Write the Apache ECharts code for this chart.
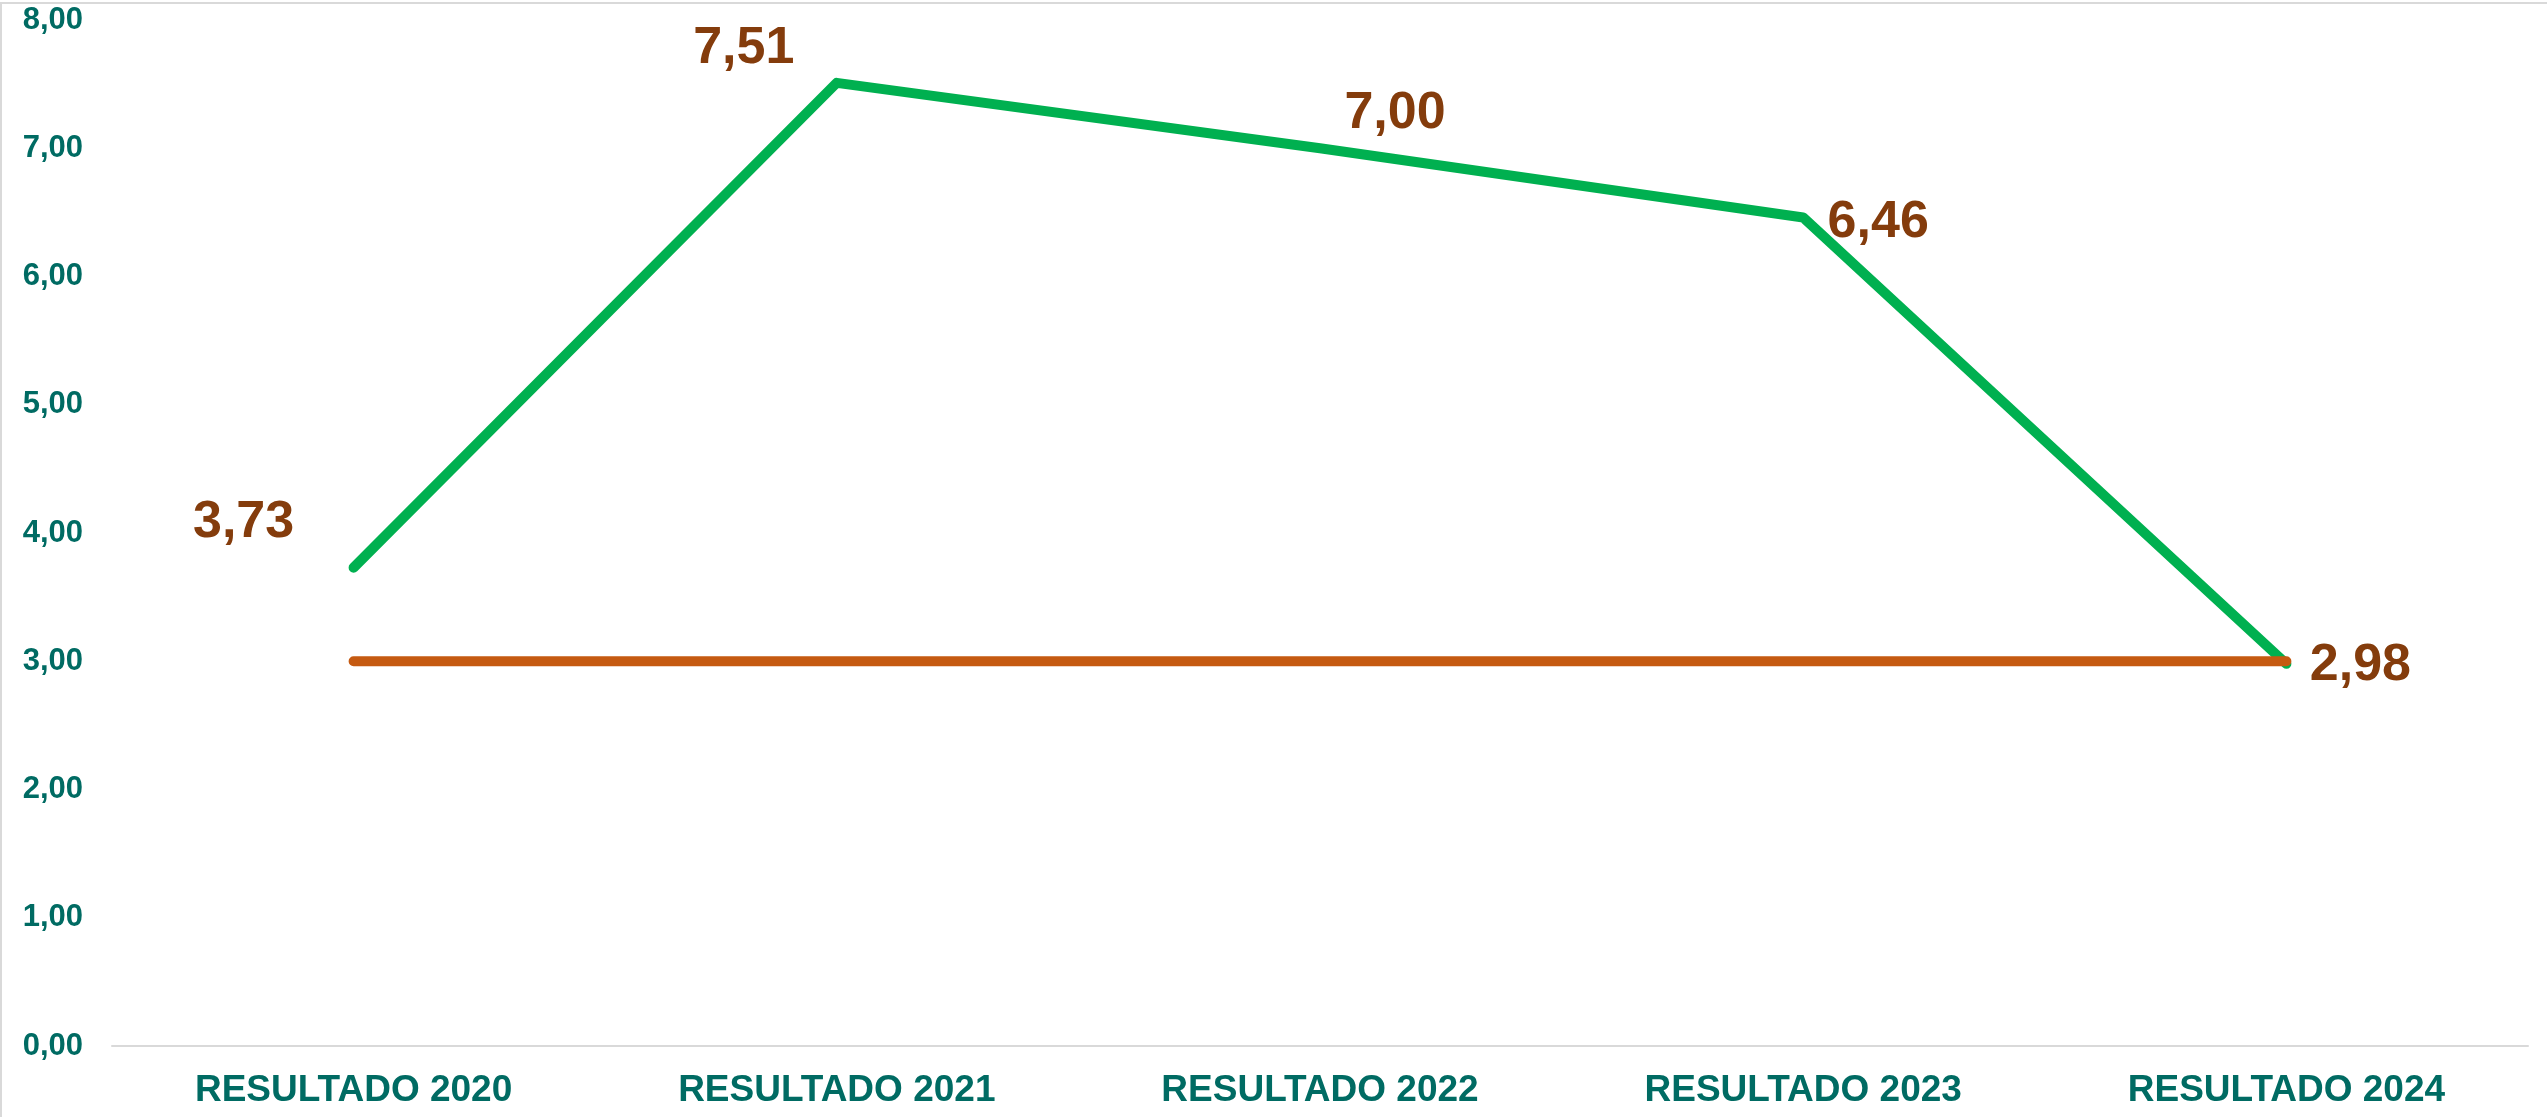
<!DOCTYPE html>
<html>
<head>
<meta charset="utf-8">
<script src="https://cdn.jsdelivr.net/npm/echarts@6/dist/echarts.min.js"></script>
<style>
  html, body { margin: 0; padding: 0; background: #fff; }
  #chart { width: 2547px; height: 1117px; }
</style>
</head>
<body>
<div id="chart"></div>
<script>
// dados do gráfico
const categorias = ["RESULTADO 2020", "RESULTADO 2021", "RESULTADO 2022", "RESULTADO 2023", "RESULTADO 2024"];
const resultado = [3.73, 7.51, 7.0, 6.46, 2.98];
const meta = [3, 3, 3, 3, 3];
const yTicks = [0, 1, 2, 3, 4, 5, 6, 7, 8];

// deslocamento dos rótulos (estilo, não dados)
const labelOffsets = [[-110, -45], [-93, -34], [75, -35], [75, 5], [74, 2]];

const fonte = '"Liberation Sans", Arial, sans-serif';
const fmt = (v) => v.toFixed(2).replace(".", ",");

const chart = echarts.init(document.getElementById("chart"));

const option = {
  backgroundColor: "#ffffff",
  animation: false,
  graphic: [
    {
      type: "rect",
      shape: { x: 1, y: 3, width: 2700, height: 1300 },
      style: { fill: "none", stroke: "#D9D9D9", lineWidth: 2 },
      silent: true,
    },
  ],
  grid: {
    left: 112,
    right: 19,
    top: 20,
    bottom: 71,
  },
  xAxis: {
    type: "category",
    data: categorias,
    boundaryGap: true,
    axisTick: { show: false },
    axisLine: { lineStyle: { color: "#D9D9D9", width: 2 } },
    axisLabel: {
      color: "#006B63",
      fontFamily: fonte,
      fontWeight: "bold",
      fontSize: 37,
      margin: 26,
    },
  },
  yAxis: {
    type: "value",
    min: yTicks[0],
    max: yTicks[yTicks.length - 1],
    interval: 1,
    splitLine: { show: false },
    axisLine: { show: false },
    axisTick: { show: false },
    axisLabel: {
      color: "#006B63",
      fontFamily: fonte,
      fontWeight: "bold",
      fontSize: 31,
      margin: 29,
      formatter: (v) => fmt(v),
    },
  },
  series: [
    {
      name: "Resultado",
      type: "line",
      symbol: "circle",
      symbolSize: 1,
      itemStyle: { color: "#00B050" },
      lineStyle: { color: "#00B050", width: 10, cap: "round", join: "round" },
      data: resultado.map((v, i) => ({
        value: v,
        label: { offset: labelOffsets[i] },
      })),
      label: {
        show: true,
        position: "inside",
        align: "center",
        verticalAlign: "middle",
        color: "#843C0C",
        fontFamily: fonte,
        fontWeight: "bold",
        fontSize: 52,
        formatter: (p) => fmt(p.value),
      },
      z: 2,
    },
    {
      name: "Meta",
      type: "line",
      showSymbol: false,
      lineStyle: { color: "#C55A11", width: 10, cap: "round" },
      itemStyle: { color: "#C55A11" },
      data: meta,
      z: 3,
    },
  ],
};

chart.setOption(option);
</script>
</body>
</html>
